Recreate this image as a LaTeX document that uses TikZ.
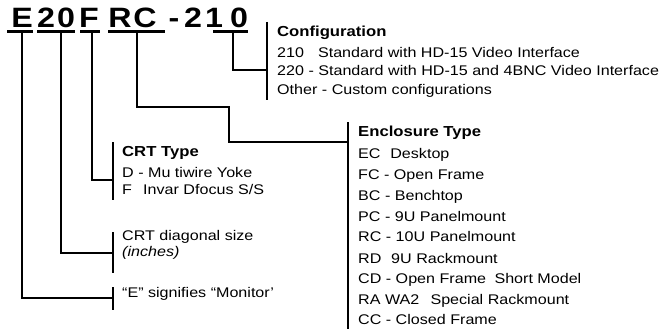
\documentclass[tikz,border=0pt]{standalone}
\usepackage{fontspec}
\setmainfont{Liberation Sans}[FakeStretch=1.15]
\begin{document}
\begin{tikzpicture}[x=1pt,y=-1pt,
  conn/.style={line width=2pt},
  brk/.style={line width=2pt},
  uline/.style={line width=3pt},
  tl/.style={font=\fontsize{28}{28}\selectfont\bfseries, inner sep=0pt, anchor=base},
  hd/.style={font=\fontsize{14.5}{14.5}\selectfont\bfseries, inner sep=0pt, anchor=base west},
  itm/.style={font=\fontsize{14}{14}\selectfont, inner sep=0pt, anchor=base west}]
\useasboundingbox (0,0) rectangle (664,329);
% title characters
\node[tl] (tE)  at (22,28)  {E};
\node[tl] (t2a) at (46,28)  {2};
\node[tl] (t0a) at (66,28)  {0};
\node[tl] (tF)  at (89,28)  {F};
\node[tl] (tR)  at (120,28) {R};
\node[tl] (tC)  at (145,28) {C};
\node[tl] (td)  at (174,28) {-};
\node[tl] (t2b) at (193,28) {2};
\node[tl] (t1)  at (214,28) {1};
\node[tl] (t0b) at (239,28) {0};
% underlines
\draw[uline] (7,32) -- (33,32);
\draw[uline] (37,32) -- (75,32);
\draw[uline] (80,32) -- (100,32);
\draw[uline] (108,32) -- (165,32);
\draw[uline] (213,32) -- (248,32);
\coordinate (uE) at (22,32);
\coordinate (u20) at (61,32);
\coordinate (uF) at (92,32);
\coordinate (uRC) at (137,32);
\coordinate (u10) at (233,32);
% brackets
\draw[brk] (267,22) -- (267,100);
\draw[brk] (348,122) -- (348,329);
\draw[brk] (113,142) -- (113,200);
\draw[brk] (113,232) -- (113,273);
\draw[brk] (113,287) -- (113,310);
\coordinate (bCfg) at (267,70);
\coordinate (bEnc) at (348,142);
\coordinate (kRC) at (229,107);
\coordinate (bCRT) at (113,180);
\coordinate (bDiag) at (113,253);
\coordinate (bE) at (113,298);
% connectors
\draw[conn] (u10) |- (bCfg);
\draw[conn] (uRC) |- (kRC) |- (bEnc);
\draw[conn] (uF) |- (bCRT);
\draw[conn] (u20) |- (bDiag);
\draw[conn] (uE) |- (bE);
% configuration
\node[hd]  (cfgH) at (277,37) {Configuration};
\node[itm] (cfg1) at (277,58) {210\hspace{1em}Standard with HD-15 Video Interface};
\node[itm] (cfg2) at (277,76) {220 - Standard with HD-15 and 4BNC Video Interface};
\node[itm] (cfg3) at (277,94) {Other - Custom configurations};
% enclosure
\node[hd]  (encH) at (358,136) {Enclosure Type};
\node[itm] (enc1) at (358,158) {EC\hspace{0.7em}Desktop};
\node[itm] (enc2) at (358,179) {FC - Open Frame};
\node[itm] (enc3) at (358,200) {BC - Benchtop};
\node[itm] (enc4) at (358,221) {PC - 9U Panelmount};
\node[itm] (enc5) at (358,241) {RC - 10U Panelmount};
\node[itm] (enc6) at (358,263) {RD\hspace{0.7em}9U Rackmount};
\node[itm] (enc7) at (358,283) {CD - Open Frame\hspace{0.6em}Short Model};
\node[itm] (enc8) at (358,304) {RA WA2\hspace{0.8em}Special Rackmount};
\node[itm] (enc9) at (358,324) {CC - Closed Frame};
% CRT type
\node[hd]  (crtH) at (122,156) {CRT Type};
\node[itm] (crt1) at (122,177) {D - Mu tiwire Yoke};
\node[itm] (crt2) at (122,194) {F\hspace{0.8em}Invar Dfocus S/S};
% diagonal
\node[itm] (dia1) at (122,240) {CRT diagonal size};
\node[itm] (dia2) at (122,256) {\itshape (inches)};
% E
\node[itm] (eS) at (122,297) {“E” signifies “Monitor’};
\end{tikzpicture}
\end{document}
